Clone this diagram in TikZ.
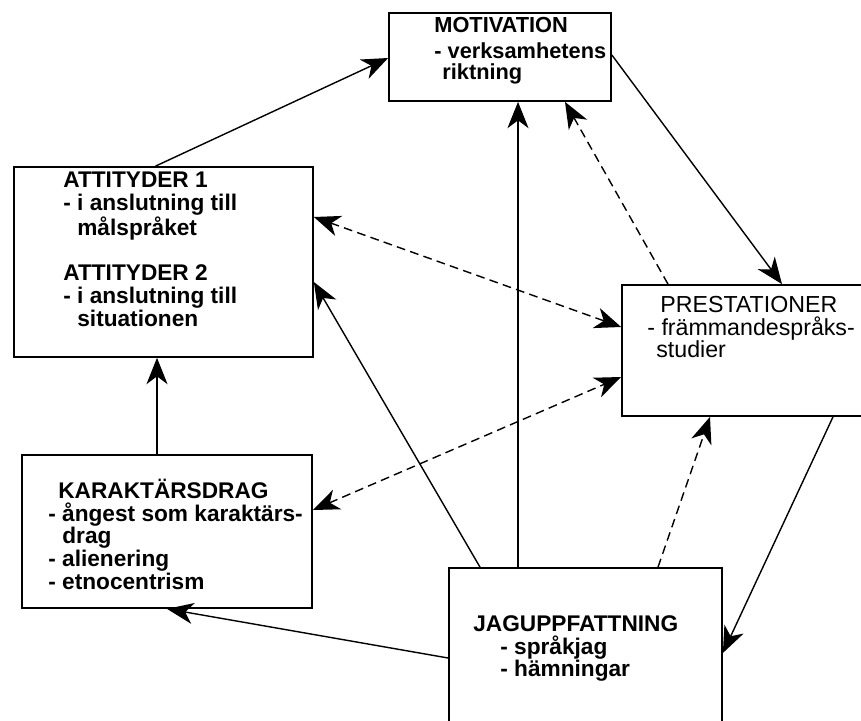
\documentclass[tikz,border=0pt]{standalone}
\usepackage{fontspec}
\setmainfont{Liberation Sans}
\usetikzlibrary{arrows.meta,calc}
\newcommand{\capline}{\rule{0pt}{12pt}}

\begin{document}
\begin{tikzpicture}[x=0.02cm,y=-0.02cm,
  every node/.style={font=\bfseries\fontsize{12.9}{13}\selectfont},
  box/.style={draw,line width=1pt,inner sep=0pt},
  txt/.style={align=left,anchor=north west,inner sep=0pt},
  ar/.style={-{Stealth[length=15pt,width=12pt,inset=4.5pt]},line width=0.8pt},
  das/.style={ar,dash pattern=on 5pt off 3pt},
  dar/.style={{Stealth[length=15pt,width=12pt,inset=4.5pt]}-{Stealth[length=15pt,width=12pt,inset=4.5pt]},line width=0.8pt,dash pattern=on 5pt off 3pt}]
\clip (0,0) rectangle (861,720);
% boxes
\node[box,minimum width=4.44cm,minimum height=1.76cm] (mot) at (500,57) {};
\node[box,minimum width=5.98cm,minimum height=3.80cm] (att) at (163.5,262) {};
\node[box,minimum width=4.88cm,minimum height=2.62cm] (pre) at (744,350.5) {};
\node[box,minimum width=5.80cm,minimum height=3.06cm] (kar) at (167,531.5) {};
\node[box,minimum width=5.46cm,minimum height=3.16cm] (jag) at (585.5,647) {};
% texts
\node[txt,font=\bfseries\fontsize{12.4}{12}\selectfont] (motT) at (434,10.8) {\capline MOTIVATION\\[2.7pt]- verksamhetens\\\hspace*{0.16cm}riktning};
\node[txt] (attT) at (63,165.8) {\capline ATTITYDER 1\\- i anslutning till\\\hspace*{0.28cm}målspråket\\[13pt]ATTITYDER 2\\- i anslutning till\\\hspace*{0.28cm}situationen};
\node[txt,font=\fontsize{13.2}{13}\selectfont] (preT) at (647,290.8) {\hspace*{0.26cm}\capline PRESTATIONER\\- främmandespråks-\\\hspace*{0.18cm}studier};
\node[txt] (karT) at (48,476.8) {\hspace*{0.2cm}\capline KARAKTÄRSDRAG\\- ångest som karaktärs-\\\hspace*{0.28cm}drag\\- alienering\\- etnocentrism};
\node[txt] (jagT) at (473,609.8) {\capline JAGUPPFATTNING\\\hspace*{0.54cm}- språkjag\\\hspace*{0.54cm}- hämningar};
% connectors
\draw[ar] ($(att.north)+(-8,0)$) -- ($(mot.west)+(0,1)$);
\draw[ar] ($(mot.east)+(0,-2)$) -- ($(pre.north)+(38,0)$);
\draw[ar] ($(jag.north)+(-67.5,0)$) -- ($(mot.south)+(18,0)$);
\draw[das] ($(pre.north)+(-76,0)$) -- ($(mot.south)+(65,0)$);
\draw[dar] ($(att.east)+(0,-45)$) -- ($(pre.west)+(0,-23.5)$);
\draw[ar] ($(jag.north)+(-105.5,0)$) -- ($(att.east)+(0,20)$);
\draw[dar] ($(kar.east)+(0,-21.5)$) -- ($(pre.west)+(0,26.5)$);
\draw[das] ($(jag.north)+(72.5,0)$) -- ($(pre.south)+(-34,0)$);
\draw[ar] ($(pre.south)+(89,0)$) -- ($(jag.east)+(0,6)$);
\draw[ar] ($(kar.north)+(-10,0)$) -- ($(att.south)+(-6.5,0)$);
\draw[ar] ($(jag.west)+(0,11)$) -- (kar.south);
\end{tikzpicture}
\end{document}
